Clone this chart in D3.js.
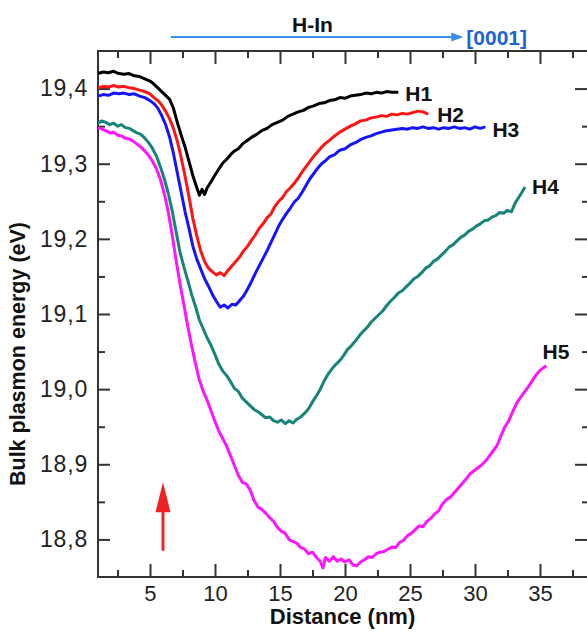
<!DOCTYPE html>
<html>
<head>
<meta charset="utf-8">
<script src="https://cdn.jsdelivr.net/npm/d3@7"></script>
<style>
  html, body { margin: 0; padding: 0; background: #fff; }
  svg { display: block; font-family: "Liberation Sans", Arial, sans-serif; }
</style>
</head>
<body>
<svg id="chart" width="587" height="632"></svg>
<script>
// Bulk plasmon energy profiles along the H-In direction, [distance nm, energy eV]
const h1 = [[1.0,19.420],[1.4,19.422],[1.8,19.421],[2.2,19.423],[2.6,19.420],[3.0,19.419],[3.4,19.420],[3.8,19.417],[4.2,19.416],[4.6,19.413],[5.0,19.410],[5.3,19.406],[5.6,19.401],[5.9,19.396],[6.2,19.391],[6.5,19.386],[6.8,19.374],[7.1,19.355],[7.4,19.338],[7.7,19.322],[8.0,19.303],[8.3,19.284],[8.6,19.268],[8.8,19.258],[9.0,19.266],[9.2,19.259],[9.4,19.268],[9.7,19.276],[10.0,19.285],[10.3,19.293],[10.6,19.301],[10.9,19.306],[11.2,19.312],[11.5,19.317],[11.8,19.320],[12.1,19.326],[12.4,19.330],[12.8,19.335],[13.2,19.339],[13.6,19.344],[14.0,19.347],[14.4,19.352],[14.8,19.355],[15.2,19.358],[15.6,19.363],[16.0,19.366],[16.4,19.369],[16.8,19.371],[17.2,19.375],[17.6,19.377],[18.0,19.380],[18.4,19.381],[18.8,19.384],[19.2,19.385],[19.6,19.388],[20.0,19.387],[20.4,19.390],[20.8,19.391],[21.2,19.392],[21.6,19.394],[22.0,19.393],[22.4,19.395],[22.8,19.394],[23.2,19.396],[23.6,19.395],[24.1,19.395]];
const h2 = [[1.0,19.401],[1.4,19.403],[1.8,19.402],[2.2,19.404],[2.6,19.402],[3.0,19.403],[3.4,19.401],[3.8,19.400],[4.2,19.398],[4.6,19.396],[5.0,19.393],[5.3,19.388],[5.6,19.384],[5.9,19.378],[6.2,19.370],[6.5,19.360],[6.8,19.347],[7.1,19.330],[7.4,19.308],[7.7,19.283],[8.0,19.256],[8.3,19.227],[8.6,19.204],[8.9,19.184],[9.2,19.170],[9.5,19.161],[9.8,19.156],[10.1,19.152],[10.4,19.155],[10.7,19.151],[11.0,19.158],[11.3,19.164],[11.6,19.170],[11.9,19.176],[12.2,19.184],[12.5,19.190],[12.8,19.198],[13.1,19.205],[13.4,19.214],[13.7,19.220],[14.0,19.228],[14.3,19.233],[14.6,19.243],[14.9,19.250],[15.2,19.255],[15.5,19.263],[15.8,19.268],[16.1,19.274],[16.4,19.281],[16.7,19.289],[17.0,19.296],[17.3,19.303],[17.6,19.310],[17.9,19.316],[18.2,19.322],[18.5,19.327],[18.8,19.331],[19.2,19.337],[19.6,19.342],[20.0,19.346],[20.4,19.350],[20.8,19.353],[21.2,19.357],[21.6,19.358],[22.0,19.361],[22.4,19.362],[22.8,19.364],[23.2,19.363],[23.6,19.366],[24.0,19.365],[24.4,19.367],[24.8,19.366],[25.2,19.368],[25.6,19.370],[26.0,19.369],[26.4,19.366]];
const h3 = [[1.0,19.390],[1.4,19.392],[1.8,19.391],[2.2,19.394],[2.6,19.393],[3.0,19.394],[3.4,19.392],[3.8,19.393],[4.2,19.390],[4.6,19.388],[5.0,19.384],[5.3,19.380],[5.6,19.374],[5.9,19.364],[6.2,19.352],[6.5,19.336],[6.8,19.314],[7.1,19.288],[7.4,19.262],[7.7,19.236],[8.0,19.214],[8.3,19.190],[8.6,19.173],[8.9,19.160],[9.2,19.147],[9.5,19.137],[9.8,19.126],[10.1,19.117],[10.4,19.109],[10.7,19.112],[11.0,19.108],[11.3,19.113],[11.6,19.112],[11.9,19.118],[12.2,19.124],[12.5,19.133],[12.8,19.143],[13.1,19.154],[13.4,19.164],[13.7,19.174],[14.0,19.184],[14.3,19.195],[14.6,19.206],[14.9,19.217],[15.2,19.226],[15.5,19.234],[15.8,19.241],[16.1,19.249],[16.4,19.254],[16.7,19.262],[17.0,19.271],[17.3,19.280],[17.6,19.287],[17.9,19.294],[18.2,19.300],[18.5,19.304],[18.8,19.309],[19.2,19.312],[19.6,19.318],[20.0,19.320],[20.4,19.325],[20.8,19.328],[21.2,19.332],[21.6,19.335],[22.0,19.337],[22.4,19.340],[22.8,19.342],[23.2,19.344],[23.6,19.345],[24.0,19.346],[24.4,19.347],[24.8,19.346],[25.2,19.348],[25.6,19.347],[26.0,19.349],[26.4,19.347],[26.8,19.348],[27.2,19.346],[27.6,19.348],[28.0,19.347],[28.4,19.349],[28.8,19.347],[29.2,19.348],[29.6,19.346],[30.0,19.349],[30.4,19.347],[30.8,19.349]];
const h4 = [[1.0,19.354],[1.3,19.357],[1.6,19.355],[1.9,19.352],[2.2,19.354],[2.5,19.350],[2.8,19.352],[3.1,19.348],[3.4,19.347],[3.7,19.344],[4.0,19.341],[4.3,19.339],[4.6,19.334],[4.9,19.328],[5.2,19.320],[5.5,19.310],[5.8,19.296],[6.1,19.280],[6.4,19.261],[6.7,19.238],[7.0,19.210],[7.3,19.183],[7.6,19.163],[7.9,19.145],[8.2,19.126],[8.5,19.110],[8.8,19.092],[9.1,19.080],[9.4,19.068],[9.7,19.058],[10.0,19.046],[10.3,19.033],[10.6,19.024],[10.9,19.018],[11.2,19.010],[11.5,19.001],[11.8,18.997],[12.1,18.988],[12.4,18.983],[12.7,18.978],[13.0,18.973],[13.3,18.970],[13.6,18.966],[13.9,18.962],[14.2,18.963],[14.5,18.958],[14.8,18.956],[15.1,18.959],[15.4,18.954],[15.7,18.958],[16.0,18.955],[16.3,18.960],[16.6,18.963],[16.9,18.968],[17.2,18.974],[17.5,18.983],[17.8,18.991],[18.1,19.000],[18.4,19.011],[18.7,19.020],[19.0,19.027],[19.3,19.033],[19.6,19.038],[19.9,19.045],[20.2,19.053],[20.5,19.058],[20.8,19.064],[21.1,19.071],[21.4,19.077],[21.7,19.082],[22.0,19.089],[22.3,19.094],[22.6,19.099],[22.9,19.104],[23.2,19.111],[23.5,19.117],[23.8,19.122],[24.1,19.128],[24.4,19.131],[24.7,19.136],[25.0,19.141],[25.3,19.147],[25.6,19.150],[25.9,19.155],[26.2,19.161],[26.5,19.164],[26.8,19.170],[27.1,19.173],[27.4,19.178],[27.7,19.183],[28.0,19.189],[28.3,19.192],[28.6,19.197],[28.9,19.202],[29.2,19.205],[29.5,19.210],[29.8,19.213],[30.1,19.217],[30.4,19.220],[30.7,19.224],[31.0,19.225],[31.3,19.229],[31.6,19.231],[31.9,19.235],[32.2,19.234],[32.5,19.238],[32.8,19.236],[33.1,19.248],[33.4,19.256],[33.85,19.269]];
const h5 = [[1.0,19.348],[1.3,19.346],[1.6,19.344],[1.9,19.341],[2.2,19.342],[2.5,19.338],[2.8,19.337],[3.1,19.334],[3.4,19.333],[3.7,19.330],[4.0,19.326],[4.3,19.322],[4.6,19.317],[4.9,19.311],[5.2,19.303],[5.5,19.293],[5.8,19.279],[6.1,19.260],[6.4,19.236],[6.7,19.206],[7.0,19.172],[7.3,19.141],[7.6,19.113],[7.9,19.084],[8.2,19.058],[8.5,19.034],[8.8,19.012],[9.1,18.997],[9.4,18.985],[9.7,18.971],[10.0,18.957],[10.3,18.944],[10.6,18.934],[10.9,18.924],[11.2,18.911],[11.5,18.898],[11.8,18.885],[12.1,18.876],[12.4,18.874],[12.7,18.866],[13.0,18.852],[13.3,18.843],[13.6,18.840],[13.9,18.835],[14.2,18.829],[14.5,18.824],[14.8,18.816],[15.1,18.811],[15.4,18.808],[15.7,18.800],[16.0,18.797],[16.3,18.795],[16.6,18.789],[16.9,18.787],[17.2,18.781],[17.5,18.783],[17.8,18.776],[18.1,18.771],[18.3,18.762],[18.5,18.776],[18.8,18.771],[19.1,18.777],[19.4,18.771],[19.7,18.774],[20.0,18.770],[20.3,18.773],[20.6,18.766],[20.9,18.765],[21.2,18.770],[21.5,18.773],[21.8,18.777],[22.1,18.776],[22.4,18.781],[22.7,18.783],[23.0,18.784],[23.3,18.787],[23.6,18.790],[23.9,18.789],[24.2,18.796],[24.5,18.799],[24.8,18.805],[25.1,18.808],[25.4,18.813],[25.7,18.818],[26.0,18.817],[26.3,18.824],[26.6,18.828],[26.9,18.834],[27.2,18.838],[27.5,18.847],[27.8,18.853],[28.1,18.856],[28.4,18.862],[28.7,18.868],[29.0,18.874],[29.3,18.880],[29.6,18.887],[29.9,18.891],[30.2,18.895],[30.5,18.899],[30.8,18.904],[31.1,18.911],[31.4,18.918],[31.7,18.925],[32.0,18.938],[32.3,18.950],[32.6,18.958],[32.9,18.970],[33.2,18.981],[33.5,18.989],[33.8,18.996],[34.1,19.003],[34.4,19.011],[34.7,19.019],[35.0,19.025],[35.3,19.029],[35.5,19.031]];

const seriesNames = ["H1", "H2", "H3", "H4", "H5"];
const seriesData = [h1, h2, h3, h4, h5];
const seriesColors = ["#000000", "#ff1414", "#1414ff", "#17847c", "#ff14ff"];

const xTicks = [5, 10, 15, 20, 25, 30, 35];
const yTicks = [18.8, 18.9, 19.0, 19.1, 19.2, 19.3, 19.4];
const yTickLabels = ["18,8", "18,9", "19,0", "19,1", "19,2", "19,3", "19,4"];

// Position of the marker arrow, in data units
const markerX = 6;
const markerFrom = 18.785;
const markerTo = 18.876;

const svg = d3.select("#chart");
const plotLeft = 98, plotRight = 589, plotTop = 51, plotBottom = 577;

const x = d3.scaleLinear().domain([1, 38.77]).range([plotLeft, plotRight]);
const y = d3.scaleLinear().domain([18.75, 19.45]).range([plotBottom, plotTop]);

const axisColor = "#333";
const minorX = d3.range(2.5, 38.77, 2.5).filter(v => v % 5 !== 0);
const minorY = d3.range(18.75, 19.45, 0.05).map(v => +v.toFixed(2)).filter(v => Math.round(v * 100) % 10 !== 0 && v > 18.75);

function styleAxis(g) {
  g.select(".domain").remove();
  g.selectAll("line").attr("stroke", axisColor).attr("stroke-width", 2);
}

// bottom axis: inward ticks with labels below
const bottomMajor = svg.append("g").attr("transform", `translate(0,${plotBottom})`)
  .call(d3.axisBottom(x).tickValues(xTicks).tickSizeInner(-13).tickSizeOuter(0).tickPadding(8).tickFormat(d3.format("d")));
styleAxis(bottomMajor);
bottomMajor.selectAll("text").attr("font-size", 22).attr("fill", "#222").attr("font-family", "Liberation Sans, Arial, sans-serif");
const bottomMinor = svg.append("g").attr("transform", `translate(0,${plotBottom})`)
  .call(d3.axisBottom(x).tickValues(minorX).tickSizeInner(-7).tickSizeOuter(0).tickFormat(""));
styleAxis(bottomMinor);

// top axis: inward ticks, no labels
const topMajor = svg.append("g").attr("transform", `translate(0,${plotTop})`)
  .call(d3.axisTop(x).tickValues(xTicks).tickSizeInner(-13).tickSizeOuter(0).tickFormat(""));
styleAxis(topMajor);
const topMinor = svg.append("g").attr("transform", `translate(0,${plotTop})`)
  .call(d3.axisTop(x).tickValues(minorX).tickSizeInner(-7).tickSizeOuter(0).tickFormat(""));
styleAxis(topMinor);

// left axis: inward ticks, comma decimal labels
const leftMajor = svg.append("g").attr("transform", `translate(${plotLeft},0)`)
  .call(d3.axisLeft(y).tickValues(yTicks).tickSizeInner(-12).tickSizeOuter(0).tickPadding(10)
    .tickFormat((d, i) => yTickLabels[i]));
styleAxis(leftMajor);
leftMajor.selectAll("text").attr("font-size", 23).attr("letter-spacing", 0.8).attr("fill", "#222").attr("font-family", "Liberation Sans, Arial, sans-serif");
const leftMinor = svg.append("g").attr("transform", `translate(${plotLeft},0)`)
  .call(d3.axisLeft(y).tickValues(minorY).tickSizeInner(-7).tickSizeOuter(0).tickFormat(""));
styleAxis(leftMinor);

// right axis: inward ticks, no labels
const rightMajor = svg.append("g").attr("transform", `translate(${plotRight},0)`)
  .call(d3.axisRight(y).tickValues(yTicks).tickSizeInner(-14).tickSizeOuter(0).tickFormat(""));
styleAxis(rightMajor);
const rightMinor = svg.append("g").attr("transform", `translate(${plotRight},0)`)
  .call(d3.axisRight(y).tickValues(minorY).tickSizeInner(-7).tickSizeOuter(0).tickFormat(""));
styleAxis(rightMinor);

// frame
svg.append("rect")
  .attr("x", plotLeft).attr("y", plotTop)
  .attr("width", plotRight - plotLeft).attr("height", plotBottom - plotTop)
  .attr("fill", "none").attr("stroke", axisColor).attr("stroke-width", 2);

// curves
const line = d3.line().x(d => x(d[0])).y(d => y(d[1]));
svg.append("g").selectAll("path")
  .data(seriesData)
  .join("path")
  .attr("d", line)
  .attr("fill", "none")
  .attr("stroke", (d, i) => seriesColors[i])
  .attr("stroke-width", 3)
  .attr("stroke-linejoin", "round");

// curve end labels
const labelOffsets = [[7, 1], [9, 0], [7, 3], [7, -1], [-4, -14]];
svg.append("g").selectAll("text")
  .data(seriesData)
  .join("text")
  .attr("x", (d, i) => x(d[d.length - 1][0]) + labelOffsets[i][0])
  .attr("y", (d, i) => y(d[d.length - 1][1]) + labelOffsets[i][1])
  .attr("dy", "0.36em")
  .attr("font-size", 21)
  .attr("font-weight", "bold")
  .attr("fill", "#111")
  .text((d, i) => seriesNames[i]);

// red marker arrow
const mx = x(markerX), my0 = y(markerFrom), my1 = y(markerTo);
const headLen = 30, headHalf = 7.5;
svg.append("line")
  .attr("x1", mx).attr("x2", mx)
  .attr("y1", my0).attr("y2", my1 + headLen - 2)
  .attr("stroke", "#ee2222").attr("stroke-width", 3);
svg.append("path")
  .attr("d", `M${mx},${my1} L${mx - headHalf},${my1 + headLen} L${mx + headHalf},${my1 + headLen} Z`)
  .attr("fill", "#ee2222");

// direction arrow and labels above the plot
const arrowY = 37;
const ax0 = x(6.6), ax1 = x(29.1);
svg.append("line")
  .attr("x1", ax0).attr("x2", ax1 - 10)
  .attr("y1", arrowY).attr("y2", arrowY)
  .attr("stroke", "#3b8ee8").attr("stroke-width", 2);
svg.append("path")
  .attr("d", `M${ax1},${arrowY} L${ax1 - 12},${arrowY - 4.5} L${ax1 - 12},${arrowY + 4.5} Z`)
  .attr("fill", "#3b8ee8");
svg.append("text")
  .attr("x", ax1 + 3).attr("y", arrowY).attr("dy", "0.36em")
  .attr("font-size", 21).attr("font-weight", "bold").attr("fill", "#1f63d8")
  .text("[0001]");
svg.append("text")
  .attr("x", x(17.5)).attr("y", 32)
  .attr("text-anchor", "middle")
  .attr("font-size", 21).attr("font-weight", "bold").attr("fill", "#111")
  .text("H-In");

// axis titles
svg.append("text")
  .attr("x", (plotLeft + plotRight) / 2 - 1).attr("y", 624)
  .attr("text-anchor", "middle")
  .attr("font-size", 22).attr("font-weight", "bold").attr("fill", "#111")
  .text("Distance (nm)");
svg.append("text")
  .attr("transform", `translate(25,354) rotate(-90)`)
  .attr("text-anchor", "middle")
  .attr("font-size", 21.5).attr("font-weight", "bold").attr("fill", "#111")
  .text("Bulk plasmon energy (eV)");
</script>
</body>
</html>
